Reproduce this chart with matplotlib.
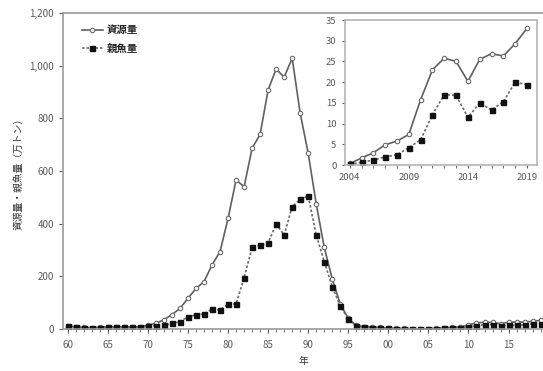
import numpy as np
import matplotlib.pyplot as plt
from matplotlib.ticker import FuncFormatter, MultipleLocator

plt.rcParams['font.family'] = ['Noto Sans CJK JP', 'DejaVu Sans']

# Main chart data (万トン), 1960-2019
years = list(range(1960, 2020))
resource = [12, 9, 6, 5, 7, 8, 9, 8, 8, 9,
            14, 22, 35, 55, 78, 117, 154, 180, 243, 294,
            420, 566, 540, 686, 739, 908, 987, 956, 1028, 819,
            667, 475, 310, 190, 95, 40, 14, 9, 7, 6,
            3, 2.5, 2, 1.5,
            0.4, 1.7, 3.0, 4.9, 5.8, 7.4, 15.8, 23.0, 25.8, 25.0,
            20.2, 25.5, 26.9, 26.3, 29.3, 33.0]
spawning = [10, 7, 4, 3, 5, 6, 7, 6, 6, 6,
            10, 12, 14, 21, 28, 47, 53, 57, 75, 72,
            95, 95, 195, 310, 318, 327, 399, 357, 464, 492,
            505, 357, 256, 161, 87, 38, 11, 6, 5, 4,
            2, 1.5, 1, 0.5,
            0.2, 0.7, 1.2, 2.0, 2.5, 4.2, 6.1, 12.2, 17.0, 16.8,
            11.5, 15.0, 13.3, 15.3, 20.0, 19.4]

# Inset: 2004-2019
inset_years = years[44:]
inset_resource = resource[44:]
inset_spawning = spawning[44:]

main_ticks = list(range(1960, 2016, 5))
inset_ticks = [2004, 2009, 2014, 2019]

grey = '#5a5a5a'
spine_col = '#9a9a9a'
res_style = dict(ls='-', color='#606060', lw=1.2, marker='o', ms=3.2,
                 mfc='white', mec='#6a6a6a', mew=0.8)
spw_style = dict(ls=(0, (1.5, 1.2)), color='#6a6a6a', lw=1.2, marker='s', ms=3.6,
                 mfc='#111111', mec='#111111')

fig = plt.figure(figsize=(5.43, 3.71), dpi=100)
ax = fig.add_axes([0.116, 0.1132, 0.884, 0.852])

ax.plot(years, resource, label='資源量', **res_style)
ax.plot(years, spawning, label='親魚量', **spw_style)

ax.set_xlim(1959.4, 2019.3)
ax.set_ylim(0, 1200)
ax.set_xticks(main_ticks)
ax.xaxis.set_minor_locator(MultipleLocator(1))
ax.xaxis.set_major_formatter(FuncFormatter(lambda v, p: '%02d' % (int(v) % 100)))
ax.yaxis.set_major_locator(MultipleLocator(200))
ax.yaxis.set_major_formatter(FuncFormatter(lambda v, p: '{:,.0f}'.format(v)))
ax.tick_params(axis='both', labelsize=7, colors=grey, length=3, width=0.8)
ax.tick_params(axis='x', which='major', pad=5)
ax.tick_params(axis='x', which='minor', length=2, color=grey)
for s in ax.spines.values():
    s.set_color(spine_col)
    s.set_linewidth(1.2)
ax.spines['right'].set_visible(False)

ax.set_xlabel('年', fontsize=7, color='#333333', labelpad=4)
ax.set_ylabel('資源量・親魚量（万トン）', fontsize=7, color='#333333', labelpad=4)

leg = ax.legend(loc='upper left', frameon=False, fontsize=7.5,
                bbox_to_anchor=(0.02, 0.99), handlelength=2.0,
                handletextpad=0.4, labelspacing=0.8)
for t in leg.get_texts():
    t.set_color('#222222')
    t.set_fontweight('bold')

# Inset
ins = fig.add_axes([0.635, 0.555, 0.354, 0.391])
ins.plot(inset_years, inset_resource, **res_style)
ins.plot(inset_years, inset_spawning, **spw_style)
ins.set_xlim(2003.58, 2019.85)
ins.set_ylim(0, 35)
ins.set_xticks(inset_ticks)
ins.xaxis.set_minor_locator(MultipleLocator(1))
ins.yaxis.set_major_locator(MultipleLocator(5))
ins.tick_params(axis='both', labelsize=6.8, colors=grey, length=2.5, width=0.8)
ins.tick_params(axis='x', which='minor', length=2, color=grey)
for s in ins.spines.values():
    s.set_color('#b5b5b5')
    s.set_linewidth(1.2)

fig.savefig('out.png', dpi=100)
